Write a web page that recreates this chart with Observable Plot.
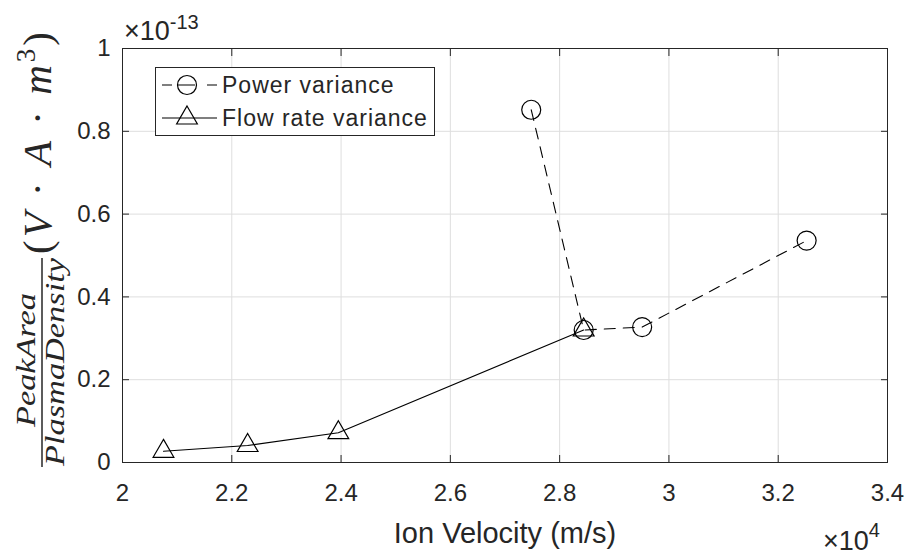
<!DOCTYPE html>
<html>
<head>
<meta charset="utf-8">
<script src="https://cdn.jsdelivr.net/npm/d3@7"></script>
<script src="https://cdn.jsdelivr.net/npm/@observablehq/plot@0.6"></script>
<style>
  html, body { margin: 0; padding: 0; background: #fff; }
  svg { display: block; }
</style>
</head>
<body>
<div id="chart"></div>
<script>
// ---- data (x in units of 10^4 m/s, y in units of 10^-13 V·A·m^3) ----
const xTicks = [2, 2.2, 2.4, 2.6, 2.8, 3, 3.2, 3.4];
const yTicks = [0, 0.2, 0.4, 0.6, 0.8, 1];

const powerVelocity = [2.748, 2.844, 2.951, 3.252];
const powerValue    = [0.852, 0.320, 0.327, 0.536];

const flowVelocity  = [2.075, 2.229, 2.395, 2.844];
const flowValue     = [0.027, 0.041, 0.072, 0.320];

const seriesNames = ["Power variance", "Flow rate variance"];
const xLabel = "Ion Velocity (m/s)";
const xExponent = "4";
const yExponent = "-13";

const power = powerVelocity.map((x, i) => ({x, y: powerValue[i]}));
const flow = flowVelocity.map((x, i) => ({x, y: flowValue[i]}));

const axisColor = "#262626";
const gridColor = "#dedede";
const sans = "'Liberation Sans', Arial, Helvetica, sans-serif";
const serif = "'Liberation Serif', 'Times New Roman', serif";
const fmt = d3.format("~g");

const plot = Plot.plot({
  width: 911,
  height: 556,
  marginLeft: 122,
  marginRight: 24,
  marginTop: 48,
  marginBottom: 94,
  style: {fontFamily: sans, fontSize: "24px", color: axisColor, background: "#fff", overflow: "visible"},
  x: {domain: [2, 3.4]},
  y: {domain: [0, 1]},
  marks: [
    Plot.gridX(xTicks, {stroke: gridColor, strokeOpacity: 1}),
    Plot.gridY(yTicks, {stroke: gridColor, strokeOpacity: 1}),
    Plot.line(flow, {x: "x", y: "y", stroke: "#000", strokeWidth: 1.1}),
    Plot.line(power, {x: "x", y: "y", stroke: "#000", strokeWidth: 1.1, strokeDasharray: "11,8"}),
    Plot.dot(power, {x: "x", y: "y", r: 9.5, stroke: "#000", fill: "none", strokeWidth: 1.2}),
    Plot.dot(flow, {x: "x", y: "y", symbol: "triangle", r: 7.7, stroke: "#000", fill: "none", strokeWidth: 1.2}),
    Plot.frame({stroke: axisColor, strokeWidth: 1}),
    Plot.axisX(xTicks, {anchor: "bottom", tickSize: -7, tickPadding: 28, tickFormat: fmt, label: null, stroke: axisColor, fill: axisColor, letterSpacing: "0.5px"}),
    Plot.axisX(xTicks, {anchor: "top", tickSize: -7, tickFormat: () => "", label: null, stroke: axisColor}),
    Plot.axisY(yTicks, {anchor: "left", tickSize: -7, tickPadding: 19, tickFormat: fmt, label: null, stroke: axisColor, fill: axisColor, letterSpacing: "0.5px"}),
    Plot.axisY(yTicks, {anchor: "right", tickSize: -7, tickFormat: () => "", label: null, stroke: axisColor}),
    Plot.text([xLabel], {frameAnchor: "bottom", lineAnchor: "bottom", dy: 80, fontSize: 29, fill: axisColor, letterSpacing: "1.4px"})
  ]
});

document.getElementById("chart").appendChild(plot);
const svg = d3.select(plot);

// ---- exponent annotations ----
const yExp = svg.append("text")
  .attr("x", 124).attr("y", 40).attr("text-anchor", "start")
  .attr("fill", axisColor).attr("font-family", sans).attr("font-size", 27);
yExp.append("tspan").text("×10");
yExp.append("tspan").attr("dy", -11).attr("font-size", 20).text(yExponent);

const xExp = svg.append("text")
  .attr("x", 823).attr("y", 550).attr("text-anchor", "start")
  .attr("fill", axisColor).attr("font-family", sans).attr("font-size", 27);
xExp.append("tspan").text("×10");
xExp.append("tspan").attr("dy", -13).attr("font-size", 20).text(xExponent);

// ---- LaTeX-like y label (rotated) ----
const yl = svg.append("g").attr("fill", axisColor).attr("font-family", serif);
yl.append("text")
  .attr("transform", "translate(35,360) rotate(-90)")
  .attr("text-anchor", "middle").attr("font-style", "italic").attr("font-size", 28)
  .attr("textLength", 134).attr("lengthAdjust", "spacingAndGlyphs")
  .text("PeakArea");
yl.append("line")
  .attr("x1", 42).attr("x2", 42).attr("y1", 258).attr("y2", 467)
  .attr("stroke", axisColor).attr("stroke-width", 1.5);
yl.append("text")
  .attr("transform", "translate(64,362) rotate(-90)")
  .attr("text-anchor", "middle").attr("font-style", "italic").attr("font-size", 28)
  .attr("textLength", 208).attr("lengthAdjust", "spacingAndGlyphs")
  .text("PlasmaDensity");
const unit = yl.append("text")
  .attr("transform", "translate(51,143) rotate(-90)")
  .attr("text-anchor", "middle").attr("font-size", 41)
  .attr("textLength", 222).attr("lengthAdjust", "spacing");
unit.append("tspan").text("(");
unit.append("tspan").attr("font-style", "italic").text("V");
unit.append("tspan").text(" · ");
unit.append("tspan").attr("font-style", "italic").text("A");
unit.append("tspan").text(" · ");
unit.append("tspan").attr("font-style", "italic").text("m");
unit.append("tspan").attr("dy", -16).attr("font-size", 27).text("3");
unit.append("tspan").attr("dy", 16).text(")");

// ---- legend ----
const lg = svg.append("g").attr("text-anchor", "start");
lg.append("rect")
  .attr("x", 155.5).attr("y", 67.5).attr("width", 279).attr("height", 68)
  .attr("fill", "#fff").attr("stroke", axisColor).attr("stroke-width", 1);
const rows = [
  {name: seriesNames[0], y: 85, dash: "10,5,18,12,10", sym: d3.symbolCircle, r: 9.5},
  {name: seriesNames[1], y: 118, dash: null, sym: d3.symbolTriangle, r: 7.7}
];
rows.forEach(row => {
  lg.append("line")
    .attr("x1", 162).attr("x2", 217).attr("y1", row.y).attr("y2", row.y)
    .attr("stroke", "#000").attr("stroke-width", 1.1)
    .attr("stroke-dasharray", row.dash);
  lg.append("path")
    .attr("transform", `translate(187,${row.y})`)
    .attr("d", d3.symbol(row.sym, Math.PI * row.r * row.r)())
    .attr("fill", "none").attr("stroke", "#000").attr("stroke-width", 1.2);
  lg.append("text")
    .attr("x", 222).attr("y", row.y).attr("dy", "0.36em")
    .attr("text-anchor", "start")
    .attr("font-family", sans).attr("font-size", 23).attr("letter-spacing", "1px")
    .attr("fill", axisColor).text(row.name);
});
</script>
</body>
</html>
